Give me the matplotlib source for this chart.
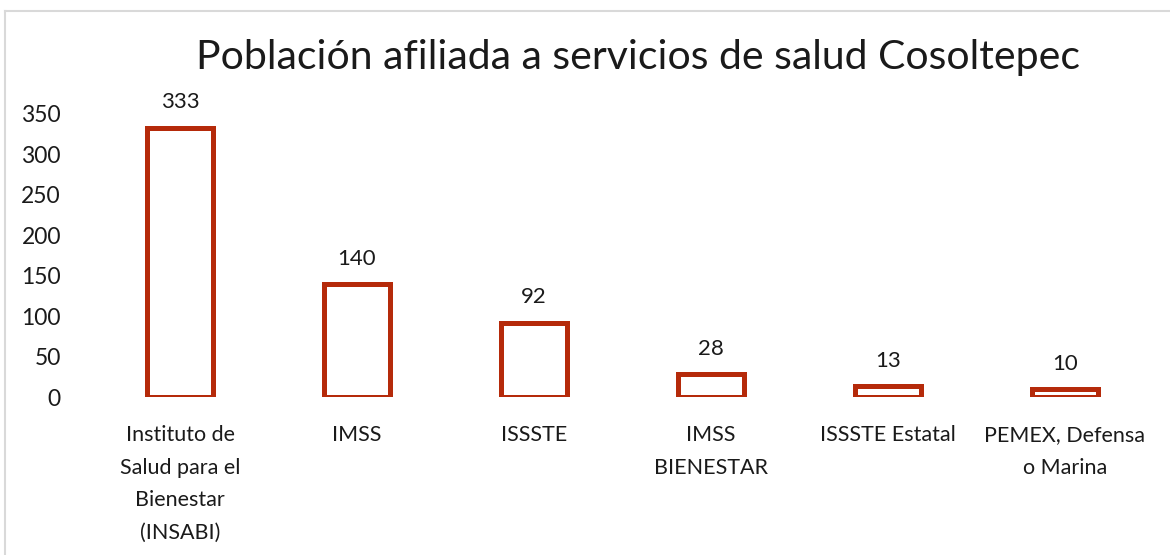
import matplotlib.pyplot as plt
from matplotlib.lines import Line2D

# Data
categories = ['Instituto de\nSalud para el\nBienestar\n(INSABI)', 'IMSS', 'ISSSTE',
              'IMSS\nBIENESTAR', 'ISSSTE Estatal', 'PEMEX, Defensa\no Marina']
values = [333, 140, 92, 28, 13, 10]
yticks = [0, 50, 100, 150, 200, 250, 300, 350]

plt.rcParams['font.family'] = ['Lato', 'DejaVu Sans']

fig = plt.figure(figsize=(11.7, 5.55), dpi=100)
ax = fig.add_axes([91.5 / 1170, 1 - 397 / 555, (1153.5 - 91.5) / 1170, (397 - 114) / 555])

x = range(len(values))
ax.bar(x, values, width=0.37, facecolor='white', edgecolor='#B52A0A', linewidth=3.6)

for xi, v in zip(x, values):
    ax.annotate(str(v), (xi, v), xytext=(0, 11), textcoords='offset points',
                ha='center', va='bottom', fontsize=16, color='#1a1a1a')

ax.set_xlim(-0.5, len(values) - 0.5)
ax.set_ylim(0, 350)
ax.set_yticks(yticks)
ax.set_xticks(list(x))
ax.set_xticklabels(categories, fontsize=15.5, linespacing=1.8, color='#1a1a1a')
ax.tick_params(axis='y', labelsize=16.5, length=0, pad=22, labelcolor='#1a1a1a')
ax.tick_params(axis='x', length=0, pad=20)
for s in ax.spines.values():
    s.set_visible(False)

fig.text(638 / 1170, 1 - 57 / 555, 'Población afiliada a servicios de salud Cosoltepec',
         ha='center', va='center', fontsize=29.5, color='#1a1a1a')

# outer frame of the chart area (partly cut off in the original)
fig.add_artist(Line2D([5 / 1170, 1], [1 - 11 / 555, 1 - 11 / 555], color='#d9d9d9', lw=1.5))
fig.add_artist(Line2D([5 / 1170, 5 / 1170], [0, 1 - 11 / 555], color='#d9d9d9', lw=1.5))

fig.savefig('out.png', dpi=100)
